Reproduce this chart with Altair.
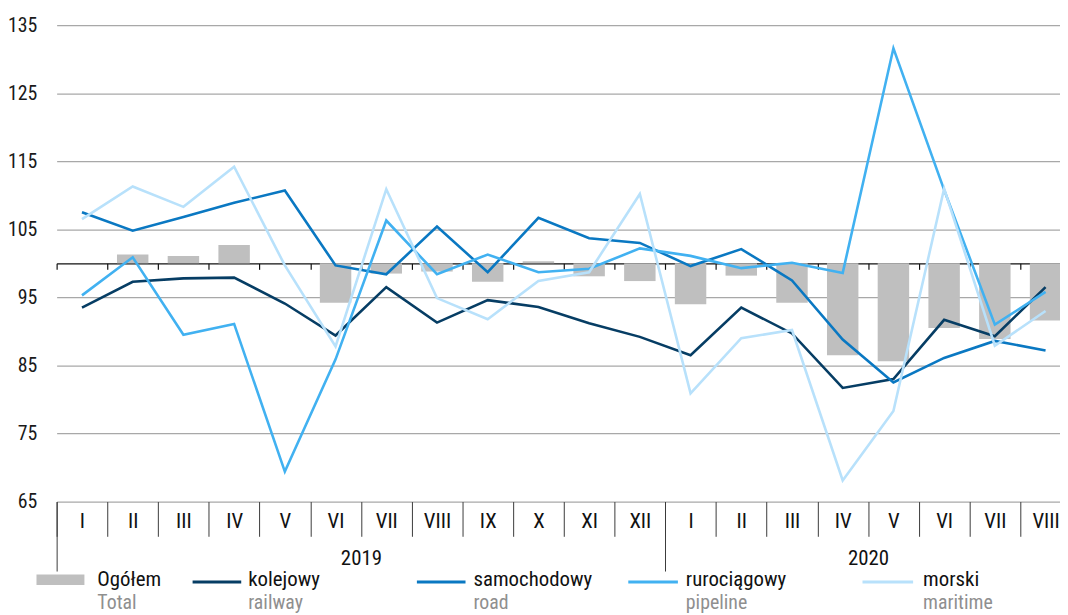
import altair as alt
import pandas as pd

# ---------------- data ----------------
MONTHS = ["I", "II", "III", "IV", "V", "VI", "VII", "VIII", "IX", "X", "XI", "XII",
          "I", "II", "III", "IV", "V", "VI", "VII", "VIII"]
YEARS = [2019] * 12 + [2020] * 8

TOTAL = [100.0, 101.3, 101.1, 102.7, 100.0, 94.2, 98.5, 98.8, 97.3, 100.3, 98.1, 97.4,
         94.0, 98.2, 94.2, 86.5, 85.6, 90.5, 88.9, 91.6]
RAIL = [93.5, 97.3, 97.8, 97.9, 94.1, 89.4, 96.5, 91.3, 94.6, 93.6, 91.2, 89.2,
        86.5, 93.5, 89.7, 81.7, 83.0, 91.7, 89.3, 96.5]
ROAD = [107.5, 104.8, 106.8, 108.9, 110.7, 99.7, 98.4, 105.4, 98.7, 106.7, 103.7, 103.0,
        99.6, 102.1, 97.5, 88.8, 82.5, 86.1, 88.6, 87.2]
PIPE = [95.3, 100.9, 89.5, 91.1, 69.4, 85.9, 106.3, 98.4, 101.3, 98.7, 99.2, 102.2,
        101.1, 99.3, 100.1, 98.6, 131.6, 110.8, 91.0, 95.8]
SEA = [106.5, 111.3, 108.3, 114.2, 99.7, 87.8, 110.9, 94.9, 91.8, 97.4, 98.7, 110.2,
       80.9, 89.0, 90.2, 68.1, 78.3, 111.0, 87.9, 93.0]

TOTAL_PL, TOTAL_EN = "Ogółem", "Total"
SERIES_PL = ["kolejowy", "samochodowy", "rurociągowy", "morski"]
SERIES_EN = ["railway", "road", "pipeline", "maritime"]
SERIES_VALUES = [RAIL, ROAD, PIPE, SEA]

# ---------------- styles ----------------
COLORS = ["#063d64", "#0a78c2", "#41b1f1", "#b8e1fb"]
TOTAL_COLOR = "#bfbfbf"
FONT = "Liberation Sans Narrow, Roboto Condensed, Liberation Sans, sans-serif"
BAND = 51.1          # pixel width of one month
W, H = 1011, 480
XMAX = W / BAND

n = len(MONTHS)
idx = list(range(n))

bars_df = pd.DataFrame({"i": idx, "month": MONTHS, "year": YEARS, "total": TOTAL})
rows = []
for name, vals in zip(SERIES_PL, SERIES_VALUES):
    for i, v in enumerate(vals):
        rows.append({"i": i, "series": name, "value": v})
lines_df = pd.DataFrame(rows)

# year blocks derived from the YEARS list
year_list = sorted(set(YEARS))
year_start = [YEARS.index(y) for y in year_list]
year_end = [len(YEARS) - YEARS[::-1].index(y) for y in year_list]
year_mid = [(a + b) / 2 for a, b in zip(year_start, year_end)]
year_df = pd.DataFrame({"pos": year_mid, "year": [str(y) for y in year_list]})

xscale = alt.Scale(domain=[0, XMAX], nice=False, zero=False)
yscale = alt.Scale(domain=[65, 135], nice=False, zero=False)

# ---------------- bars (with the axis drawn at 100) ----------------
axis100 = alt.Axis(values=idx, labels=False, ticks=True, tickSize=6, tickColor="#111",
                   tickWidth=1.2, domainColor="#111", domainWidth=1.4, grid=False,
                   offset=-240, title=None, orient="bottom")
yaxis = alt.Axis(values=list(range(65, 136, 10)), grid=True, gridColor="#a8a8a8",
                 gridWidth=1.3, ticks=False, domain=False, labelFont=FONT,
                 labelFontSize=20, labelColor="#1a1a1a", labelPadding=20, title=None)

bars = alt.Chart(bars_df).transform_calculate(
    x0="datum.i + 0.19", x1="datum.i + 0.81"
).mark_rect(color=TOTAL_COLOR).encode(
    x=alt.X("x0:Q", scale=xscale, axis=axis100),
    x2="x1:Q",
    y=alt.Y("total:Q", scale=yscale, axis=yaxis),
    y2=alt.datum(100),
)

# ---------------- lines (with the month axis) ----------------
half_vals = [k * 0.5 for k in range(0, 2 * n)]
months_js = "[" + ",".join("'" + m + "'" for m in MONTHS) + "]"
month_axis = alt.Axis(
    values=half_vals,
    labelExpr=f"datum.value % 1 == 0 ? '' : {months_js}[floor(datum.value)]",
    tickSize=35, tickColor="#3a3a3a", tickWidth=1,
    tickOpacity={"condition": {"test": "datum.value % 1 != 0", "value": 0}, "value": 1},
    domain=False, grid=False, labelFont=FONT, labelFontSize=21, labelColor="#111",
    labelPadding=-26, labelAngle=0, labelOverlap=False, labelFlush=False,
    labelBound=False, title=None, orient="bottom",
)

lines = alt.Chart(lines_df).transform_calculate(xc="datum.i + 0.5").mark_line(
    strokeWidth=2.6
).encode(
    x=alt.X("xc:Q", scale=xscale, axis=month_axis),
    y=alt.Y("value:Q", scale=yscale),
    color=alt.Color("series:N", scale=alt.Scale(domain=SERIES_PL, range=COLORS),
                    legend=None),
)

# ---------------- year axis ----------------
yr_vals = sorted(set(year_start + year_mid))
yr_label = " : ".join(f"datum.value == {m} ? '{y}'" for m, y in zip(year_mid, year_df["year"])) + " : ''"
hide_test = " || ".join(f"datum.value == {m}" for m in year_mid)
year_axis = alt.Axis(
    values=yr_vals, labelExpr=yr_label, tickSize=70, tickColor="#3a3a3a", tickWidth=1,
    tickOpacity={"condition": {"test": hide_test, "value": 0}, "value": 1},
    domain=False, grid=False, labelFont=FONT, labelFontSize=21, labelColor="#111",
    labelPadding=-24, labelAngle=0, labelOverlap=False, labelFlush=False,
    labelBound=False, title=None, orient="bottom",
)
years_layer = alt.Chart(year_df).mark_point(opacity=0).encode(
    x=alt.X("pos:Q", scale=xscale, axis=year_axis),
    y=alt.value(0),
)

# ---------------- custom legend ----------------
one = pd.DataFrame({"a": [0]})
LEG_SWATCH = [(137, 186), (363, 412), (576, 626), (812, 863)]
LEG_TEXT = [193, 420, 634, 873]
PL_Y, EN_Y, LINE_Y = 565, 588, 561
PL_SIZE, EN_SIZE = 21, 20
legend_layers = [
    alt.Chart(one).mark_rect(color=TOTAL_COLOR).encode(
        x=alt.value(-20.3), x2=alt.value(28), y=alt.value(553.5), y2=alt.value(564)),
    alt.Chart(one).mark_text(align="left", baseline="alphabetic", font=FONT,
                             fontSize=PL_SIZE, color="#111").encode(
        x=alt.value(41), y=alt.value(PL_Y), text=alt.value(TOTAL_PL)),
    alt.Chart(one).mark_text(align="left", baseline="alphabetic", font=FONT,
                             fontSize=EN_SIZE, color="#8f8f8f").encode(
        x=alt.value(41), y=alt.value(EN_Y), text=alt.value(TOTAL_EN)),
]
for (sx0, sx1), tx, pl, en, col in zip(LEG_SWATCH, LEG_TEXT, SERIES_PL, SERIES_EN, COLORS):
    legend_layers += [
        alt.Chart(one).mark_rule(color=col, strokeWidth=3).encode(
            x=alt.value(sx0), x2=alt.value(sx1), y=alt.value(LINE_Y)),
        alt.Chart(one).mark_text(align="left", baseline="alphabetic", font=FONT,
                                 fontSize=PL_SIZE, color="#111").encode(
            x=alt.value(tx), y=alt.value(PL_Y), text=alt.value(pl)),
        alt.Chart(one).mark_text(align="left", baseline="alphabetic", font=FONT,
                                 fontSize=EN_SIZE, color="#8f8f8f").encode(
            x=alt.value(tx), y=alt.value(EN_Y), text=alt.value(en)),
    ]

chart = alt.layer(bars, lines, years_layer, *legend_layers).resolve_axis(
    x="independent"
).properties(
    width=W, height=H,
    autosize=alt.AutoSizeParams(type="none"),
    padding={"left": 49, "top": 15, "right": 0, "bottom": 112},
    background="white",
).configure_view(stroke=None)

chart.save("out.html", embed_options={"renderer": "svg", "actions": False})
